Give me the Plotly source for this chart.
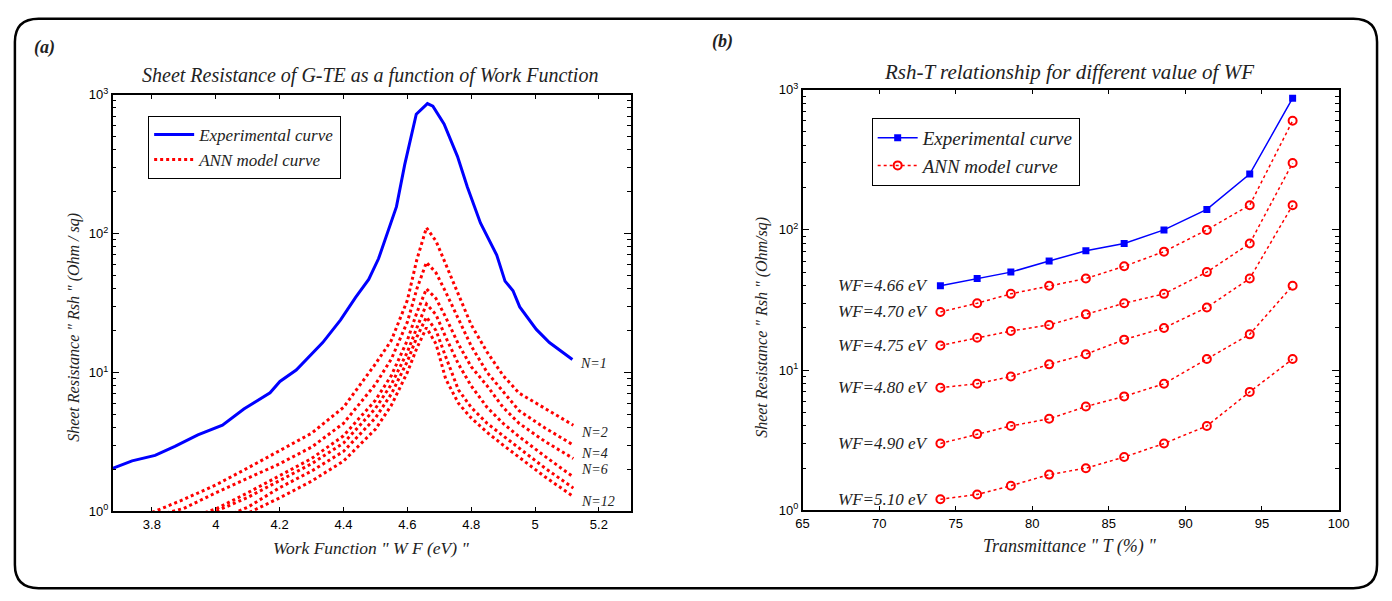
import numpy as np
import plotly.graph_objects as go

W, H = 1392, 601

# ---- panel (a): sheet resistance vs work function ----
wf_exp = [3.677, 3.738, 3.81, 3.872, 3.944, 4.021, 4.088, 4.17, 4.201, 4.252, 4.335, 4.391,
          4.438, 4.479, 4.51, 4.546, 4.566, 4.592, 4.628, 4.663, 4.68, 4.715, 4.757, 4.788,
          4.829, 4.88, 4.906, 4.931, 4.952, 5.004, 5.045, 5.117]
rsh_exp = [2.04, 2.31, 2.53, 2.94, 3.55, 4.17, 5.45, 7.13, 8.61, 10.4, 16.4, 23.9,
           34.7, 46.7, 66, 113, 156, 314, 721, 860, 824, 614, 359, 216,
           119, 69.8, 45.4, 38.7, 29.6, 20.4, 16.4, 12.4]

wf_ann = [3.70, 3.80, 3.90, 4.00, 4.10, 4.20, 4.30, 4.40, 4.50, 4.55, 4.60, 4.63, 4.66,
          4.69, 4.72, 4.76, 4.80, 4.85, 4.90, 4.95, 5.03, 5.12]
rsh_ann = [
    [0.75, 0.98, 1.22, 1.55, 2.05, 2.75, 3.65, 5.6, 11.5, 17, 33, 65, 110, 88, 60, 36, 22, 14, 9.5, 7.1, 5.5, 4.17],
    [0.8, 0.92, 1.05, 1.36, 1.72, 2.2, 2.9, 4.3, 8.2, 12.5, 23, 40, 62, 52, 38, 24, 15.5, 10, 7.3, 5.3, 4.0, 3.0],
    [0.6, 0.72, 0.86, 1.04, 1.36, 1.8, 2.4, 3.5, 6.3, 9.5, 17, 27, 40, 34, 25, 16, 11, 8, 5.6, 4.3, 3.2, 2.4],
    [0.58, 0.7, 0.83, 1.0, 1.26, 1.66, 2.2, 3.1, 5.5, 8.2, 14, 21, 31, 26, 18, 11.5, 8, 5.6, 4.3, 3.45, 2.5, 1.77],
    [0.5, 0.6, 0.72, 0.86, 1.07, 1.48, 1.95, 2.7, 4.7, 7, 12, 18, 25, 20, 13, 7.5, 5.6, 4.3, 3.5, 2.86, 2.06, 1.47],
    [0.45, 0.55, 0.65, 0.78, 0.97, 1.25, 1.65, 2.3, 3.9, 5.8, 10, 15, 21, 16, 9, 6, 4.7, 3.7, 3.0, 2.44, 1.78, 1.28],
]
# N labels and the series end each one sits next to (-1 = experimental)
n_labels = ["N=1", "N=2", "N=4", "N=6", "N=12"]
n_series = [-1, 0, 1, 2, 5]
n_shift = [-4, -7, -8, -11, -5]

# ---- panel (b): Rsh vs transmittance ----
trans = [74.0, 76.4, 78.6, 81.1, 83.5, 86.0, 88.6, 91.4, 94.2, 97.0]
rsh_466 = [40, 45, 50, 60, 71, 80, 100, 140, 250, 870]
wf_labels = ["WF=4.66 eV", "WF=4.70 eV", "WF=4.75 eV", "WF=4.80 eV", "WF=4.90 eV", "WF=5.10 eV"]
rsh_wf = [
    [26, 30, 35, 40, 45, 55, 70, 100, 150, 600],
    [15, 17, 19, 21, 25, 30, 35, 50, 80, 300],
    [7.5, 8, 9, 11, 13, 16.5, 20, 28, 45, 150],
    [3, 3.5, 4, 4.5, 5.5, 6.5, 8, 12, 18, 40],
    [1.2, 1.3, 1.5, 1.8, 2, 2.4, 3, 4, 7, 12],
]

SERIF = "Liberation Serif"
SANS = "Liberation Sans"
BLUE = "#0000ff"
RED = "#ff0000"

fig = go.Figure()

fig.add_trace(go.Scatter(x=wf_exp, y=rsh_exp, mode="lines", name="Experimental curve",
                         line=dict(color=BLUE, width=3), legend="legend", xaxis="x", yaxis="y"))
for i, r in enumerate(rsh_ann):
    fig.add_trace(go.Scatter(x=wf_ann, y=r, mode="lines", name="ANN model curve",
                             showlegend=(i == 0), line=dict(color=RED, width=3, dash="dot"),
                             legend="legend", xaxis="x", yaxis="y"))

fig.add_trace(go.Scatter(x=trans, y=rsh_466, mode="lines+markers", name="Experimental curve",
                         line=dict(color=BLUE, width=1.5),
                         marker=dict(symbol="square", size=7, color=BLUE),
                         legend="legend2", xaxis="x2", yaxis="y2"))
for i, r in enumerate(rsh_wf):
    fig.add_trace(go.Scatter(x=trans, y=r, mode="lines+markers", name="ANN model curve",
                             showlegend=(i == 0), line=dict(color=RED, width=1.5, dash="dot"),
                             marker=dict(symbol="circle-open", size=8, color=RED, line=dict(width=2)),
                             legend="legend2", xaxis="x2", yaxis="y2"))

decades = [1, 10, 100, 1000]
dec_text = ["10<sup>0</sup>", "10<sup>1</sup>", "10<sup>2</sup>", "10<sup>3</sup>"]
minor_vals = [m * d for d in [1, 10, 100] for m in range(2, 10)]


def xax(domain, rng, dtick, tick0):
    return dict(domain=domain, range=rng, dtick=dtick, tick0=tick0, ticks="inside", ticklen=5,
                mirror="allticks", showline=True, linecolor="black", linewidth=1.5,
                tickcolor="black", showgrid=False, zeroline=False,
                tickfont=dict(family=SANS, size=13, color="black"))


def yax(domain, anchor):
    return dict(domain=domain, anchor=anchor, type="log", range=[0, 3], tickmode="array",
                tickvals=decades, ticktext=dec_text, ticks="inside", ticklen=7,
                mirror="allticks", showline=True, linecolor="black", linewidth=1.5,
                tickcolor="black", showgrid=False, zeroline=False,
                tickfont=dict(family=SANS, size=13, color="black"),
                minor=dict(tickmode="array", tickvals=minor_vals, ticks="inside", ticklen=4,
                           tickcolor="black", showgrid=False))


def px_x(p):
    return p / W


def px_y(p):
    return 1 - p / H


annotations = []
# N labels at right end of panel (a)
for txt, s, sh in zip(n_labels, n_series, n_shift):
    yv = rsh_exp[-1] if s < 0 else rsh_ann[s][-1]
    xv = wf_exp[-1] if s < 0 else wf_ann[-1]
    annotations.append(dict(x=xv, y=np.log10(yv), xref="x", yref="y", text=txt, showarrow=False,
                            xanchor="left", xshift=6, yshift=sh,
                            font=dict(family=SERIF, size=14, color="#222", style="italic")))
# WF labels in panel (b)
for txt, r in zip(wf_labels, [rsh_466] + rsh_wf):
    annotations.append(dict(x=trans[0], y=np.log10(r[0]), xref="x2", yref="y2", text=txt,
                            showarrow=False, xanchor="right", xshift=-9,
                            font=dict(family=SERIF, size=17, color="#222", style="italic")))

texts = [
    ("(a)", 38, 40, 18, 0, "bold"),
    ("(b)", 725, 33, 18, 0, "bold"),
    ("Sheet Resistance of G-TE as a function of Work Function", 368, 68, 20, 0, "normal"),
    ("Rsh-T relationship for different value of WF", 1076, 65, 21, 0, "normal"),
    ("Work Function \" W F (eV) \"", 369, 555, 17.5, 0, "normal"),
    ("Transmittance \" T (%) \"", 1076, 553, 18, 0, "normal"),
    ("Sheet Resistance \" Rsh \" (Ohm / sq)", 68, 328, 16, -90, "normal"),
    ("Sheet Resistance \" Rsh \" (Ohm/sq)", 765, 328, 16, -90, "normal"),
]
for t, x, y, s, ang, wt in texts:
    annotations.append(dict(x=px_x(x), y=px_y(y), xref="paper", yref="paper", text=t,
                            showarrow=False, textangle=ang, xanchor="center", yanchor="middle",
                            font=dict(family=SERIF, size=s, color="#222", style="italic", weight=wt)))

# rounded frame around both panels
l, r_, t, b, rad = 8, 1388, 10, 596, 24
rx, ry = rad / W, rad / H
x0, x1, y0, y1 = px_x(l), px_x(r_), px_y(b), px_y(t)
frame = (f"M {x0 + rx},{y1} L {x1 - rx},{y1} Q {x1},{y1} {x1},{y1 - ry} "
         f"L {x1},{y0 + ry} Q {x1},{y0} {x1 - rx},{y0} L {x0 + rx},{y0} Q {x0},{y0} {x0},{y0 + ry} "
         f"L {x0},{y1 - ry} Q {x0},{y1} {x0 + rx},{y1} Z")

fig.update_layout(
    width=W, height=H, margin=dict(l=0, r=0, t=0, b=0),
    paper_bgcolor="white", plot_bgcolor="white",
    xaxis=xax([px_x(107), px_x(632)], [3.677, 5.3], 0.2, 3.8) | dict(anchor="y"),
    yaxis=yax([px_y(517), px_y(88)], "x"),
    xaxis2=xax([px_x(806), px_x(1349)], [65, 100], 5, 65) | dict(anchor="y2"),
    yaxis2=yax([px_y(516), px_y(83)], "x2"),
    legend=dict(x=px_x(143), y=px_y(110), xanchor="left", yanchor="top",
                bordercolor="black", borderwidth=1, bgcolor="white", itemwidth=40,
                font=dict(family=SERIF, size=17, color="#222", style="italic")),
    legend2=dict(x=px_x(876), y=px_y(112), xanchor="left", yanchor="top",
                 bordercolor="black", borderwidth=1, bgcolor="white", itemwidth=40,
                 font=dict(family=SERIF, size=19, color="#222", style="italic")),
    annotations=annotations,
    shapes=[dict(type="path", path=frame, xref="paper", yref="paper",
                 line=dict(color="black", width=2.5), layer="below")],
)

fig.write_html("out.html", config={"displayModeBar": False},
               post_script="document.body.style.margin='0px';"
                           "document.body.style.overflow='hidden';")
